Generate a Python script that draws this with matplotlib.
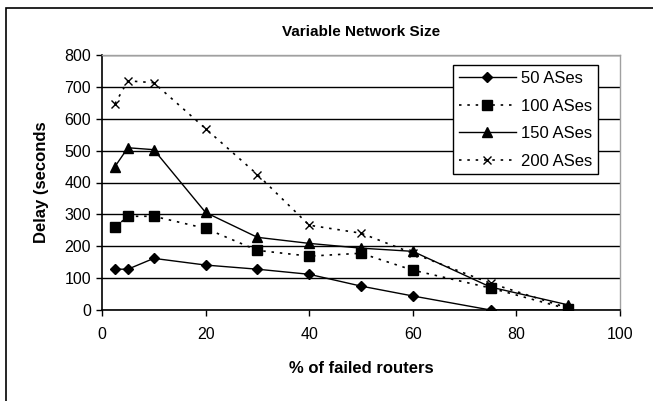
import matplotlib
matplotlib.use("Agg")
import matplotlib.pyplot as plt
from matplotlib.patches import Rectangle

plt.rcParams['font.family'] = ['Liberation Sans', 'DejaVu Sans']

x = [2.5, 5, 10, 20, 30, 40, 50, 60, 75, 90]
ases50 = [128, 128, 162, 141, 128, 112, 75, 44, 0, 0]
ases100 = [259, 294, 294, 256, 187, 169, 178, 125, 69, 3]
ases150 = [450, 509, 503, 306, 228, 209, 194, 184, 72, 16]
ases200 = [647, 719, 713, 569, 425, 266, 241, 178, 84, 6]
labels = ['50 ASes', '100 ASes', '150 ASes', '200 ASes']

W, H = 653, 401
fig = plt.figure(figsize=(W/100, H/100), dpi=100)
# outer chart frame (left and top visible)
fig.patches.append(Rectangle((6/W, -0.1), 1.2, (H - 8)/H + 0.1, transform=fig.transFigure,
                             fill=False, edgecolor='black', linewidth=1.2))

ax = fig.add_axes([102/W, 1 - 310/H, (620-102)/W, (310-55)/H])
ax.plot(x, ases50, color='black', lw=1, ls='-', marker='D', ms=5.5, label=labels[0])
ax.plot(x, ases100, color='black', lw=1.2, ls=(0, (1.5, 3.5)), marker='s', ms=7, label=labels[1])
ax.plot(x, ases150, color='black', lw=1, ls='-', marker='^', ms=7.5, label=labels[2])
ax.plot(x, ases200, color='black', lw=1.2, ls=(0, (1.5, 3.5)), marker='x', ms=5.5, mew=1, label=labels[3])

ax.set_xlim(0, 100)
ax.set_ylim(0, 800)
ax.set_xticks(range(0, 101, 20))
ax.set_yticks(range(0, 801, 100))
ax.yaxis.grid(True, color='black', lw=1)
ax.set_axisbelow(True)
for s in ['top', 'right']:
    ax.spines[s].set_color('#a0a0a0')
    ax.spines[s].set_linewidth(1)
for s in ['left', 'bottom']:
    ax.spines[s].set_color('black')
    ax.spines[s].set_linewidth(1.2)
ax.tick_params(direction='out', length=4, width=1, labelsize=11.5, pad=4)
ax.tick_params(axis='x', pad=8)

ax.set_title('Variable Network Size', fontsize=11, fontweight='bold', pad=14)
ax.set_xlabel('% of failed routers', fontsize=12, fontweight='bold', labelpad=14)
ax.set_ylabel('Delay (seconds', fontsize=12, fontweight='bold', labelpad=11)

leg = ax.legend(loc='upper right', bbox_to_anchor=(0.957, 0.96), fontsize=12,
                frameon=True, fancybox=False, edgecolor='black', framealpha=1,
                handlelength=3.4, borderpad=0.35, labelspacing=0.75, handletextpad=0.3,
                borderaxespad=0)
leg.get_frame().set_linewidth(1)

fig.savefig('out.png', dpi=100)
